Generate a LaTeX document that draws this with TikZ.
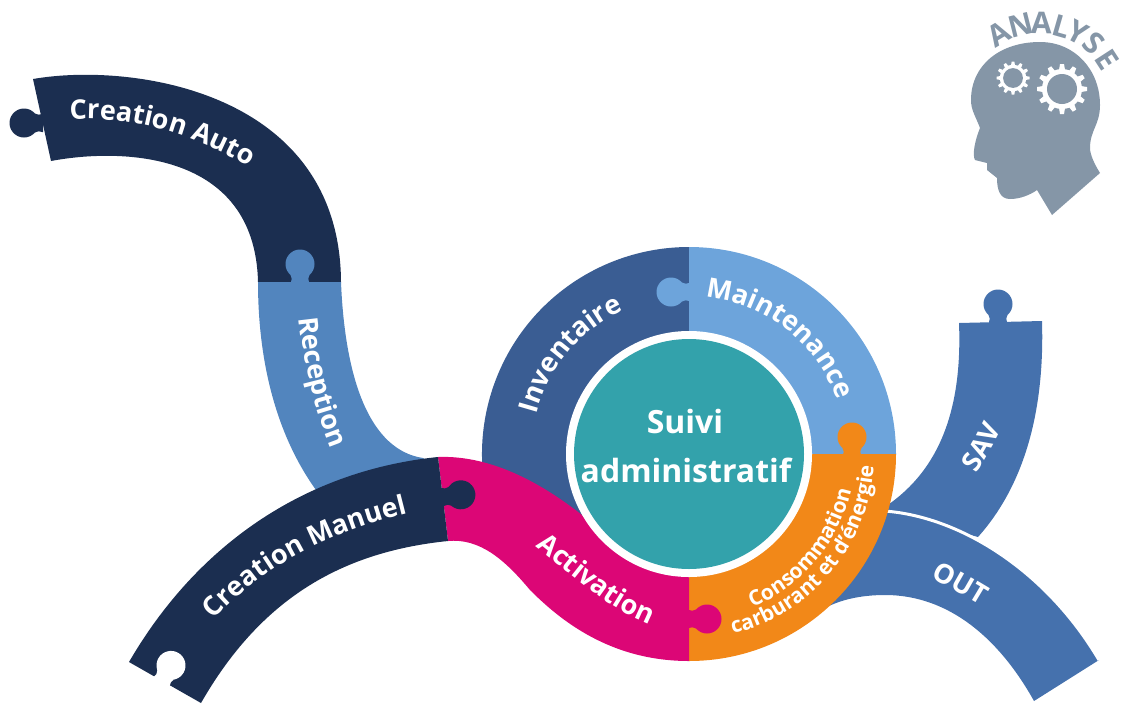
\documentclass[tikz,border=0pt]{standalone}
\usepackage{fontspec}
\setmainfont{Open Sans}
\usetikzlibrary{calc}
\usetikzlibrary{decorations.text}
\definecolor{navy}{HTML}{1B2E50}
\definecolor{recept}{HTML}{5285BE}
\definecolor{invent}{HTML}{3A5D93}
\definecolor{mainten}{HTML}{6DA4DB}
\definecolor{conso}{HTML}{F28818}
\definecolor{activ}{HTML}{DC0676}
\definecolor{suivi}{HTML}{33A2AB}
\definecolor{sortie}{HTML}{4571AD}
\definecolor{tete}{HTML}{8596A7}
\newcommand{\bandfont}{\fontsize{27}{27}\selectfont\bfseries\color{white}}
\newcommand{\consofont}{\fontsize{21}{21}\selectfont\bfseries\color{white}}
\tikzset{
	knob/.pic={
		\fill[pic actions] (-9,1) -- (-9,0) .. controls (-8,-3) .. (-9.5,-7) -- (9.5,-7) .. controls (8,-3) .. (9,0) -- (9,1) -- cycle;
		\fill[pic actions] (0,-18) circle [radius=14.5];
	},
	gear/.pic={
		\fill[white] (0,0) circle [radius=20];
		\foreach \ang in {0,30,...,330}
			\fill[white,rotate=\ang] (-3,-19) -- (-2,-25) -- (2,-25) -- (3,-19) -- cycle;
		\fill[tete] (0,0) circle [radius=15];
	},
	bandlabel/.style={decorate,decoration={text along path,text align=center,text={|\bandfont|#1}}},
	consolabel/.style={decorate,decoration={text along path,text align=center,text={|\consofont|#1}}},
	analyselabel/.style={text=tete,font=\fontsize{30}{30}\selectfont\bfseries,inner sep=0pt},
	titlelabel/.style={text=white,font=\fontsize{32}{32}\selectfont\bfseries,inner sep=0pt}
}
\begin{document}
\begin{tikzpicture}[x=1pt,y=-1pt]
	\useasboundingbox (0,0) rectangle (1129,710);
	\coordinate (ctr) at (689,454);
	\coordinate (tete) at (1040,103);

	\fill[navy] (33,79) .. controls (130,62) and (340,90) .. (341,282) -- (258,282) .. controls (255,150) and (120,148) .. (51,161) -- cycle;
	\pic[fill=navy,rotate=90] at (42,123) {knob};
	\fill[recept] (258,282) .. controls (258,370) and (280,440) .. (316,490) -- (440,470) -- (423,458) .. controls (370,450) and (345,380) .. (341,282) -- cycle;
	\pic[fill=recept] at (300,282) {knob};

	\fill[sortie] (959,323) .. controls (962,400) and (945,470) .. (880,510) -- (978,537) .. controls (1020,490) and (1045,420) .. (1042,321) -- cycle;
	\pic[fill=sortie] at (998,322) {knob};
	\fill[sortie] (860,511) .. controls (940,505) and (1040,560) .. (1099,660) -- (1034,701) .. controls (1000,640) and (950,595) .. (885,595) .. controls (860,595) and (840,600) .. (825,608) -- cycle;
	\draw[white,line width=3pt] (860,511) .. controls (940,505) and (1040,560) .. (1099,660);

	\fill[invent] (ctr) -- ++(150:207) arc (150:270:207) -- cycle;
	\fill[mainten] (ctr) -- ++(270:207) arc (270:360:207) -- cycle;
	\pic[fill=mainten,rotate=90] at (689,292) {knob};
	\fill[conso] (ctr) -- ++(0:207) arc (0:90:207) -- cycle;
	\pic[fill=conso] at (852,455) {knob};

	\fill[activ] (438,457) .. controls (490,455) and (545,482) .. (600,530) -- (689,540) -- (689,661) .. controls (610,661) and (560,620) .. (530,590) .. controls (505,560) and (480,538) .. (448,541) -- cycle;
	\pic[fill=activ,rotate=-90] at (689,619) {knob};
	\fill[navy] (129,662) .. controls (200,540) and (310,470) .. (438,457) -- (448,541) .. controls (340,552) and (260,600) .. (201,703) -- cycle;
	\pic[fill=navy,rotate=-83] at (443,497) {knob};
	\pic[fill=white,rotate=-30] at (162,681) {knob};

	\fill[white] (ctr) circle [radius=123];
	\fill[suivi] (ctr) circle [radius=115];
	\node[titlelabel] (suiviA) at (685,421) {Suivi};
	\node[titlelabel] (suiviB) at (686,470) {administratif};

	\path[bandlabel={Creation Auto}] (45,122) .. controls (120,110) and (200,133) .. (270,180);
	\path[bandlabel={Reception}] (297,290) .. controls (300,360) and (317,420) .. (342,475);
	\path[bandlabel={Creation Manuel}] (190,650) .. controls (245,570) and (335,525) .. (445,505);
	\path[bandlabel={Activation}] (510,527) .. controls (570,570) and (610,618) .. (680,634);
	\path[bandlabel={SAV}] (959,500) .. controls (979,470) and (999,440) .. (1014,400);
	\path[bandlabel={OUT}] (900,560) .. controls (935,580) and (975,600) .. (1010,625);
	\path[bandlabel={Inventaire}] (ctr) ++(170:158) arc (170:270:158);
	\path[bandlabel={Maintenance}] (ctr) ++(260:158) arc (260:356:158);
	\path[consolabel={Consommation}] (ctr) ++(85:166) arc (85:-5:166);
	\path[consolabel={carburant et d’énergie}] (ctr) ++(85:185) arc (85:-5:185);

	\fill[tete] (1040,42) .. controls (1075,42) and (1100,70) .. (1100,105) .. controls (1100,125) and (1090,130) .. (1090,148) .. controls (1090,155) and (1095,165) .. (1100,173) -- (1052,215) -- (1037,190) .. controls (1030,195) and (1020,199) .. (1010,199) .. controls (1000,199) and (997,190) .. (997,178) -- (987,170) -- (987,163) -- (975,160) .. controls (972,155) and (975,140) .. (980,128) .. controls (975,115) and (971,110) .. (971,100) .. controls (971,65) and (1000,42) .. (1040,42) -- cycle;
	\pic[scale=.66] at (1013,78) {gear};
	\pic at (1062,89) {gear};
	\foreach \ltr/\ang [count=\i] in {A/239,N/256,A/271,L/286,Y/298,S/312,E/327}
		\node[analyselabel,rotate=270-\ang] (analyse\i) at ($(tete)+(\ang:80)$) {\ltr};
\end{tikzpicture}
\end{document}
